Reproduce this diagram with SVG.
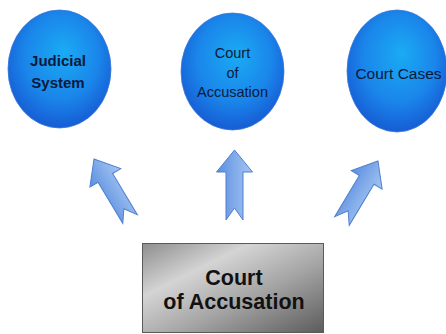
<svg xmlns="http://www.w3.org/2000/svg" width="446" height="334" viewBox="0 0 446 334">
<defs>
<radialGradient id="blue" cx="0.5" cy="0.42" r="0.6" fx="0.55" fy="0.35">
<stop offset="0" stop-color="#1aabf4"/>
<stop offset="0.6" stop-color="#1a86ea"/>
<stop offset="1" stop-color="#1659d2"/>
</radialGradient>
<linearGradient id="arr" x1="0" y1="0" x2="1" y2="0">
<stop offset="0" stop-color="#5b8fe0"/>
<stop offset="1" stop-color="#a6c6f2"/>
</linearGradient>
<linearGradient id="metal" x1="0" y1="0" x2="1" y2="1">
<stop offset="0" stop-color="#8e8e8e"/>
<stop offset="0.3" stop-color="#d4d4d4"/>
<stop offset="0.6" stop-color="#a4a4a4"/>
<stop offset="1" stop-color="#5c5c5c"/>
</linearGradient>
<path id="arrowShape" d="M0,0 L18,22 L8.5,22 L8.5,70 L0,58 L-8.5,70 L-8.5,22 L-18,22 Z"/>
</defs>
<style>
.ell{fill:url(#blue);stroke:#3b78d8;stroke-width:0.8}
.t1{font-family:"Liberation Sans",Arial,sans-serif;fill:#0b1a3c;text-anchor:middle}
.arrow{fill:url(#arr);stroke:#4f7fcf;stroke-width:1}
.box{fill:url(#metal);stroke:#5a5a5a;stroke-width:1}
.bt{font-family:"Liberation Sans",Arial,sans-serif;font-weight:bold;font-size:21.5px;fill:#111;text-anchor:middle}
</style>
<rect width="446" height="334" fill="#ffffff"/>
<g id="node-judicial">
<ellipse class="ell" cx="59.5" cy="69" rx="51.5" ry="59"/>
<text class="t1" x="58" y="66" font-size="15" font-weight="bold">Judicial</text>
<text class="t1" x="58" y="88" font-size="15" font-weight="bold">System</text>
</g>
<g id="node-court-accusation">
<ellipse class="ell" cx="232.5" cy="71.5" rx="51.5" ry="58.5"/>
<text class="t1" x="232.5" y="58" font-size="14.5">Court</text>
<text class="t1" x="232.5" y="77.5" font-size="14.5">of</text>
<text class="t1" x="232.5" y="97" font-size="14.5">Accusation</text>
</g>
<g id="node-court-cases">
<ellipse class="ell" cx="397" cy="71" rx="50" ry="61"/>
<text class="t1" x="398.5" y="79" font-size="15.5">Court Cases</text>
</g>
<g id="connectors">
<use href="#arrowShape" class="arrow" transform="translate(94,159) rotate(-31)"/>
<use href="#arrowShape" class="arrow" transform="translate(234.5,150)"/>
<use href="#arrowShape" class="arrow" transform="translate(378,161) rotate(31)"/>
</g>
<g id="node-bottom">
<rect class="box" x="142.5" y="243.5" width="181" height="89"/>
<text class="bt" x="234" y="285">Court</text>
<text class="bt" x="234" y="309">of Accusation</text>
</g>
</svg>
